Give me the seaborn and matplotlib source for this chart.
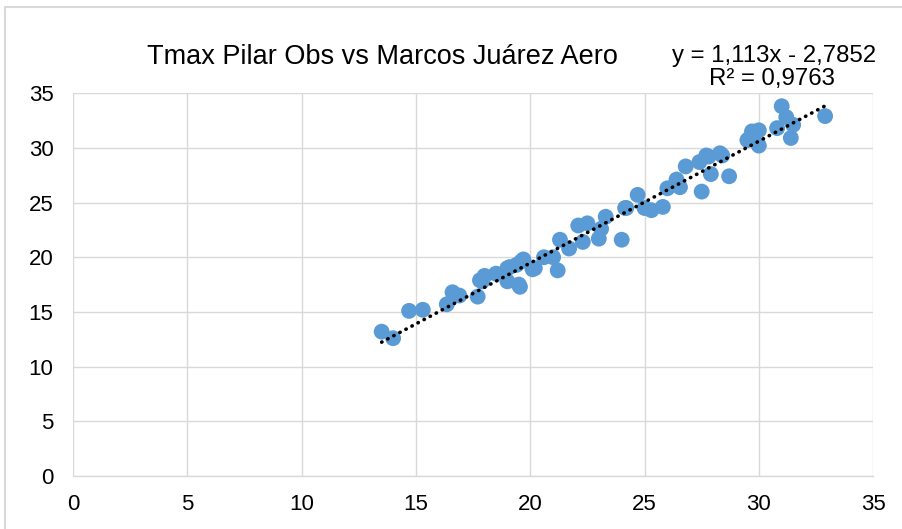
import matplotlib
matplotlib.use("Agg")
import matplotlib.pyplot as plt
import seaborn as sns
import numpy as np
import pandas as pd
from matplotlib.patches import Rectangle

x_obs = [13.5, 14.0, 14.7, 15.3, 16.35, 16.6, 16.9, 17.7, 17.8, 17.9, 18.0, 18.5,
         19.0, 19.0, 19.1, 19.4, 19.5, 19.55, 19.6, 19.7, 20.1, 20.2, 20.6, 21.0,
         21.2, 21.3, 21.7, 22.1, 22.3, 22.5, 23.0, 23.1, 23.3, 24.0, 24.15, 24.2,
         24.7, 25.0, 25.3, 25.8, 26.0, 26.4, 26.55, 26.8, 27.4, 27.5, 27.7, 27.8,
         27.9, 28.3, 28.4, 28.7, 29.5, 29.6, 29.7, 30.0, 30.0, 30.8, 31.0, 31.2,
         31.4, 31.5, 32.9]
y_obs = [13.2, 12.6, 15.1, 15.2, 15.7, 16.8, 16.5, 16.4, 17.9, 17.8, 18.3, 18.5,
         19.0, 17.8, 19.1, 19.3, 17.5, 17.3, 19.6, 19.8, 18.9, 19.0, 20.0, 20.0,
         18.8, 21.6, 20.8, 22.9, 21.4, 23.1, 21.7, 22.6, 23.7, 21.6, 24.5, 24.5,
         25.7, 24.5, 24.3, 24.6, 26.3, 27.1, 26.4, 28.3, 28.7, 26.0, 29.3, 29.2,
         27.6, 29.5, 29.3, 27.4, 30.7, 30.9, 31.5, 31.6, 30.2, 31.8, 33.8, 32.8,
         30.9, 32.1, 32.9]

slope = 1.113
intercept = -2.7852
title_text = "Tmax Pilar Obs vs Marcos Juárez Aero"
eq_text = "y = 1,113x - 2,7852"
r2_text = "R² = 0,9763"
ticks = [0, 5, 10, 15, 20, 25, 30, 35]

df = pd.DataFrame({"x": x_obs, "y": y_obs})
xs = np.array([min(x_obs), max(x_obs)])
trend = pd.DataFrame({"x": xs, "y": slope * xs + intercept})

sns.set_theme(style="white")
plt.rcParams["font.family"] = ["Liberation Sans", "DejaVu Sans"]

fig = plt.figure(figsize=(9.02, 5.29), dpi=100)
ax = fig.add_axes([0.081, 0.100, 0.887, 0.724])

fig.patches.append(Rectangle((0.0055, -0.05), 1.1, 1.036, transform=fig.transFigure,
                             fill=False, edgecolor="#D9D9D9", linewidth=1.5))

sns.scatterplot(data=df, x="x", y="y", ax=ax, color="#5B9BD5", s=130,
                edgecolor="none", linewidth=0, zorder=3)
sns.lineplot(data=trend, x="x", y="y", ax=ax, color="black", linewidth=2.6,
             linestyle=(0, (0.1, 1.8)), dash_capstyle="round", zorder=4)

ax.set_xlim(0, 35)
ax.set_ylim(0, 35)
ax.set_xticks(ticks)
ax.set_yticks(ticks)
ax.set_xticklabels([str(t) for t in ticks])
ax.set_yticklabels([str(t) for t in ticks])
ax.grid(True, color="#D9D9D9", linewidth=1.0)
ax.set_axisbelow(True)
for s in ["top", "right", "left"]:
    ax.spines[s].set_visible(False)
ax.spines["bottom"].set_color("#D9D9D9")
ax.spines["bottom"].set_linewidth(1.0)
ax.tick_params(axis="both", length=0, labelsize=16, colors="#000000")
ax.tick_params(axis="x", pad=13)
ax.tick_params(axis="y", pad=14)
ax.set_xlabel("")
ax.set_ylabel("")

fig.text(0.4235, 0.892, title_text, ha="center", va="center", fontsize=19.5, color="#000000")
fig.text(0.858, 0.895, eq_text, ha="center", va="center", fontsize=17.3, color="#000000")
fig.text(0.926, 0.850, r2_text, ha="right", va="center", fontsize=17.3, color="#000000")

fig.savefig("out.png", dpi=100)
